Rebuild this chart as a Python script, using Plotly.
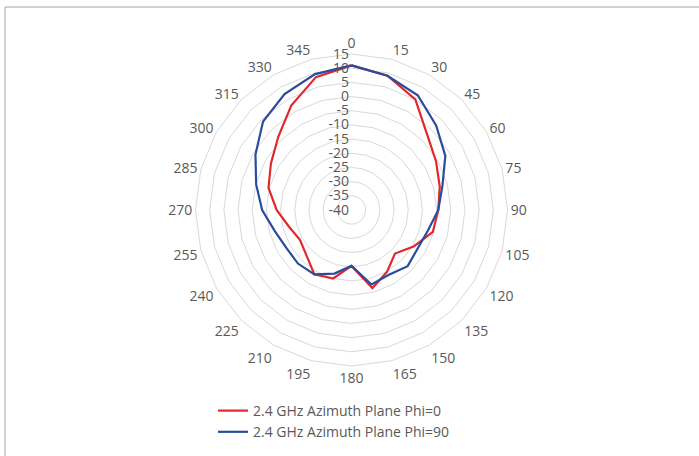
import plotly.graph_objects as go

angles = [str(a) for a in range(0, 360, 15)]
phi0 = [11, 9, 5, -2.3, -5.6, -7.8, -9.4, -10.3, -14.5, -18.3, -14.9, -11.5,
        -20.3, -15, -13.8, -17.5, -19, -17.2, -13.6, -9.7, -7.2, -3.5, 2.5, 8.5]
phi90 = [11, 9, 6.7, 2.2, -1.8, -6.8, -9.4, -12.1, -13, -12, -13.6, -12.8,
         -20.3, -16.8, -13.8, -13.3, -13.4, -11.9, -8.5, -5.2, -0.9, 4.1, 7.2, 9.6]
radial_ticks = list(range(-40, 20, 5))
names = ["2.4 GHz Azimuth Plane Phi=0", "2.4 GHz Azimuth Plane Phi=90"]
colors = ["#e0292d", "#2a4c9c"]

W, H = 699, 456
cx, cy, R = 351.5, 208, 156

fig = go.Figure()
for vals, name, col in zip([phi0, phi90], names, colors):
    fig.add_trace(go.Scatterpolar(
        r=vals + [vals[0]], theta=angles + [angles[0]], mode="lines",
        name=name, line=dict(color=col, width=2.2)))

fig.update_layout(
    width=W, height=H,
    margin=dict(l=0, r=0, t=0, b=0),
    paper_bgcolor="white",
    font=dict(family="Open Sans", size=14, color="#595959"),
    polar=dict(
        domain=dict(x=[(cx - R) / W, (cx + R) / W],
                    y=[(H - cy - R - 2) / H, (H - cy + R - 2) / H]),
        gridshape="linear",
        bgcolor="white",
        radialaxis=dict(range=[-40, 15], tickvals=radial_ticks,
                        ticktext=[str(v) for v in radial_ticks],
                        angle=90, tickangle=90, showline=False,
                        gridcolor="#d9d9d9", gridwidth=1, ticks="",
                        side="counterclockwise",
                        tickfont=dict(size=14, color="#595959")),
        angularaxis=dict(type="category", categoryarray=angles,
                         rotation=90, direction="clockwise",
                         showgrid=False, showline=True, linecolor="#d9d9d9",
                         ticks="", tickfont=dict(size=14, color="#595959")),
    ),
    legend=dict(x=213 / W, xanchor="left", y=(H - 395) / H, yanchor="top",
                itemwidth=30, font=dict(size=14, color="#595959"),
                tracegroupgap=0),
    shapes=[dict(type="rect", xref="paper", yref="paper",
                 x0=5 / W, x1=1.01, y0=-0.01, y1=(H - 7) / H,
                 line=dict(color="#a6a6a6", width=1))],
)
fig.write_html("out.html",
               config={"displayModeBar": False, "staticPlot": True},
               post_script="document.body.style.margin='0';"
                           "document.body.style.overflow='hidden';")
